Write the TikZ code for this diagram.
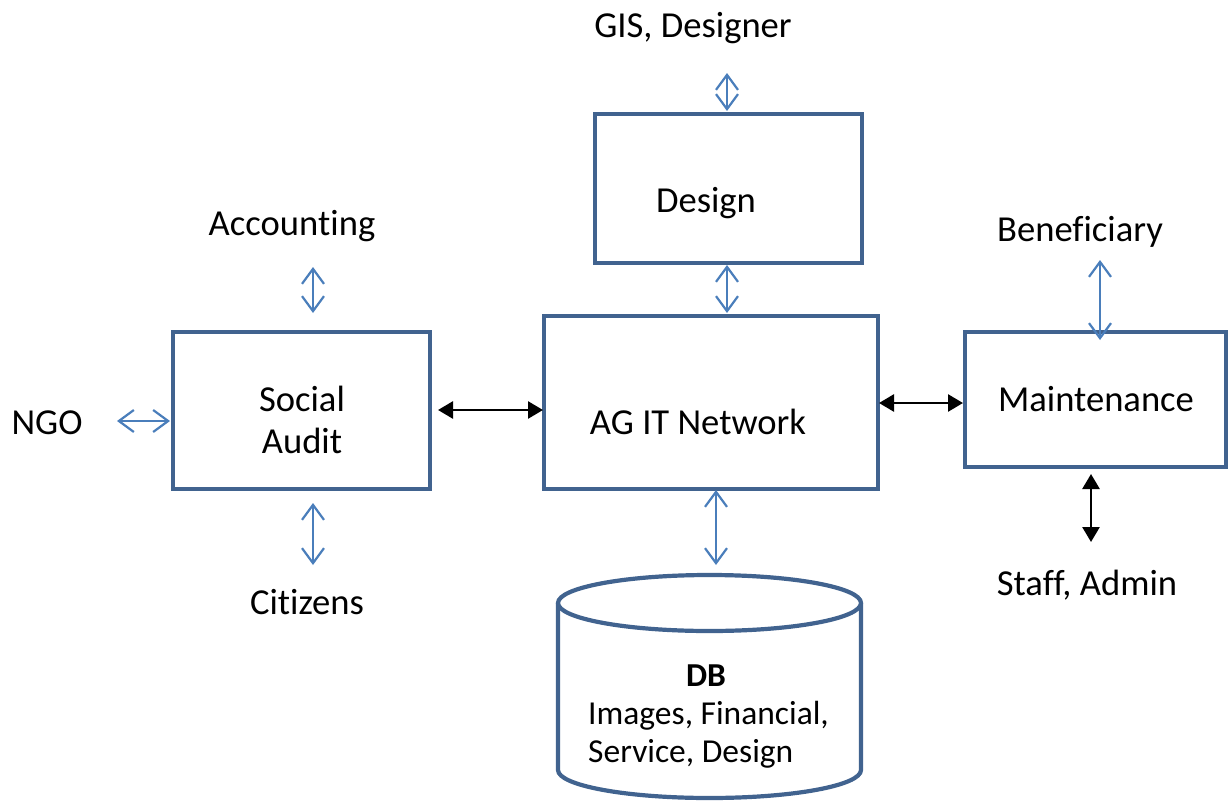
\documentclass[tikz,border=0pt]{standalone}
\usepackage{fontspec}
\setmainfont[Ligatures={NoCommon}]{Carlito}
\usetikzlibrary{arrows.meta}
\definecolor{boxblue}{HTML}{41638F}
\definecolor{arrblue}{HTML}{4A7EBB}
\begin{document}
\begin{tikzpicture}[x=1pt,y=-1pt,
  box/.style={draw=boxblue,line width=4.2pt,fill=white,inner sep=0pt},
  lbl/.style={font=\fontsize{36.6}{42}\selectfont,inner sep=0pt,align=center},
  dbl/.style={font=\fontsize{33.5}{38}\selectfont,inner sep=0pt,align=left},
  barrow/.style={arrblue,line width=2.2pt,{Straight Barb[length=15pt,width=22pt]}-{Straight Barb[length=15pt,width=22pt]}},
  karrow/.style={black,line width=2.6pt,{Triangle[length=15pt,width=17pt]}-{Triangle[length=15pt,width=17pt]}}]
\useasboundingbox (0,0) rectangle (1228,800);

% boxes
\node[box,minimum width=267pt,minimum height=149pt] (design) at (728.5,188.5) {};
\node[box,minimum width=334pt,minimum height=173pt] (ag) at (711,402.5) {};
\node[box,minimum width=257pt,minimum height=157pt] (sa) at (301.5,410.5) {};
\node[box,minimum width=261pt,minimum height=135pt] (mt) at (1095.5,399.5) {};

% database cylinder
\draw[draw=boxblue,line width=4.2pt,fill=white]
  (558,603) -- (558,770) arc[start angle=180,end angle=360,x radius=151.5pt,y radius=28pt]
  -- (861,603);
\draw[draw=boxblue,line width=4.2pt,fill=white] (709.5,603) ellipse[x radius=151.5pt,y radius=28pt];

% labels
\node[lbl] (gis) at (693,28) {GIS, Designer};
\node[lbl] (designl) at (706,203) {Design};
\node[lbl] (acc) at (292,226) {Accoun\kern0pt t\kern0pt ing};
\node[lbl] (ben) at (1080,232) {Beneficiary};
\node[lbl] (sal) at (302,420) {Social\\Audit};
\node[lbl] (ngo) at (47,423) {NGO};
\node[lbl] (agl) at (698,422) {AG IT Network};
\node[lbl] (mtl) at (1096,399) {Maintenance};
\node[lbl] (cit) at (307,602) {Citizens};
\node[lbl] (staff) at (1087,585) {Staff, Admin};
\node[dbl,font=\fontsize{33.5}{38}\selectfont\bfseries] (dbt) at (706,676) {DB};
\node[dbl,anchor=west] (dbx) at (588,735) {Images, Financial,\\Service, Design};

% connector end points
\coordinate (g1) at (727,73);  \coordinate (g2) at (727,111);
\coordinate (d1) at (727,265); \coordinate (d2) at (727,313);
\coordinate (c1) at (313,267); \coordinate (c2) at (313,313);
\coordinate (n1) at (117,421); \coordinate (n2) at (170,421);
\coordinate (z1) at (313,503); \coordinate (z2) at (313,565);
\coordinate (s1) at (438,410); \coordinate (s2) at (543,410);
\coordinate (b1) at (716,490); \coordinate (b2) at (716,565);
\coordinate (m1) at (879,403); \coordinate (m2) at (963,403);
\coordinate (e1) at (1100,260); \coordinate (e2) at (1100,340);
\coordinate (t1) at (1091,474); \coordinate (t2) at (1091,542);

\draw[barrow] (g1) -- (g2);
\draw[barrow] (d1) -- (d2);
\draw[barrow] (c1) -- (c2);
\draw[barrow] (n1) -- (n2);
\draw[barrow] (z1) -- (z2);
\draw[barrow] (b1) -- (b2);
\draw[barrow] (e1) -- (e2);
\draw[karrow] (s1) -- (s2);
\draw[karrow] (m1) -- (m2);
\draw[karrow] (t1) -- (t2);
\end{tikzpicture}
\end{document}
